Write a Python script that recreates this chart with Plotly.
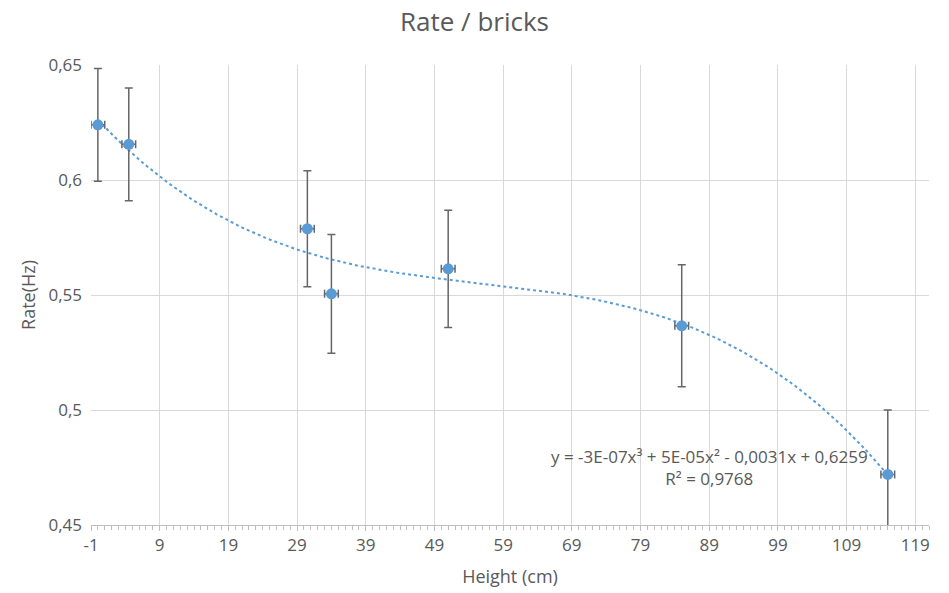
import numpy as np
import plotly.graph_objects as go

height_cm = [0, 4.5, 30.5, 34, 51, 85, 115]
rate_hz = [0.624, 0.6155, 0.5788, 0.5505, 0.5614, 0.5366, 0.472]
rate_err = [0.0245, 0.0245, 0.0252, 0.0258, 0.0255, 0.0265, 0.028]
height_err = [1, 1, 1, 1, 1, 1, 1]
x_ticks = [-1, 9, 19, 29, 39, 49, 59, 69, 79, 89, 99, 109, 119]
x_tick_labels = ["-1", "9", "19", "29", "39", "49", "59", "69", "79", "89", "99", "109", "119"]

coef = np.polyfit(height_cm, rate_hz, 3)
xs = np.linspace(min(height_cm), max(height_cm), 300)
ys = np.polyval(coef, xs)

blue = "#5b9bd5"
gray_txt = "#595959"
grid = "#d9d9d9"
FONT = "Open Sans, Liberation Sans, sans-serif"

fig = go.Figure()
fig.add_trace(go.Scatter(x=xs, y=ys, mode="lines",
                         line=dict(color=blue, width=2, dash="dot"),
                         hoverinfo="skip", showlegend=False))
fig.add_trace(go.Scatter(
    x=height_cm, y=rate_hz, mode="markers",
    marker=dict(color=blue, size=11),
    error_y=dict(type="data", array=rate_err, color="#666666", thickness=1.5, width=4),
    error_x=dict(type="data", array=height_err, color="#666666", thickness=1.5, width=4),
    showlegend=False))

fig.add_annotation(x=89.1, y=0.4748, xref="x", yref="y",
                   text="y = -3E-07x³ + 5E-05x² - 0,0031x + 0,6259<br>R² = 0,9768",
                   showarrow=False, align="center",
                   font=dict(family=FONT, size=17, color=gray_txt))

fig.update_layout(
    width=949, height=593,
    margin=dict(l=91, r=20, t=65, b=68),
    paper_bgcolor="white", plot_bgcolor="white",
    separators=", ",
    font=dict(family=FONT, size=17, color=gray_txt),
    title=dict(text="Rate / bricks", x=0.5, xanchor="center", y=1 - 22 / 593, yanchor="middle",
               font=dict(size=26, color=gray_txt)),
    xaxis=dict(range=[-1, 121], tickvals=x_ticks, ticktext=x_tick_labels, automargin=False,
               showgrid=True, gridcolor=grid, gridwidth=1,
               showline=True, linecolor="#bfbfbf", linewidth=1, zeroline=False,
               ticks="outside", ticklen=5, tickcolor="#bfbfbf",
               minor=dict(dtick=1, tick0=-1, ticks="outside", ticklen=4, tickcolor="#bfbfbf", showgrid=False),
               title=dict(text="Height (cm)", font=dict(size=18, color=gray_txt), standoff=14),
               tickfont=dict(size=17, color=gray_txt)),
    yaxis=dict(range=[0.45, 0.65], dtick=0.05, showgrid=True, gridcolor=grid, gridwidth=1, automargin=False,
               showline=False, zeroline=False, ticks="", ticklabelstandoff=8,
               title=dict(text="Rate(Hz)", font=dict(size=18, color=gray_txt), standoff=8),
               tickfont=dict(size=17, color=gray_txt)),
)

fig.write_html("out.html")
